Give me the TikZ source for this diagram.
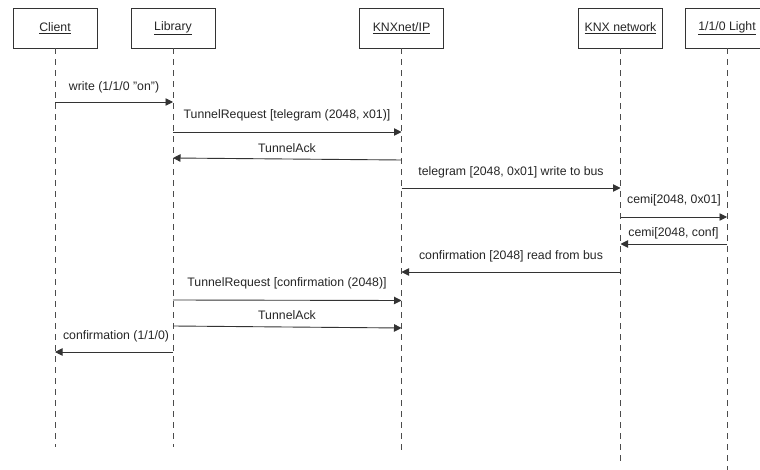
\documentclass[tikz,border=0pt]{standalone}
\usepackage{fontspec}
\setmainfont{Liberation Sans}
\usetikzlibrary{arrows.meta}
\tikzset{
  actor/.style={draw=black!80, line width=0.9pt, minimum width=84pt, minimum height=40pt, inner sep=0pt, font=\fontsize{12.3}{14}\selectfont, text=black!85},
  lifeline/.style={draw=black!70, line width=0.9pt, dash pattern=on 6pt off 5pt},
  msg/.style={draw=black!80, line width=0.9pt, -{Triangle[length=7.5pt,width=7.5pt]}},
  lbl/.style={font=\fontsize{12.3}{14}\selectfont, text=black!85, inner sep=0pt}
}
\begin{document}
\begin{tikzpicture}[x=1pt,y=-1pt]
\useasboundingbox (0,0) rectangle (760,470);
% actors
\node[actor] (client) at (55,28) {\underline{Client}};
\node[actor] (lib) at (173,28) {\underline{Library}};
\node[actor] (knxip) at (401.5,28) {\underline{KNXnet/IP}};
\node[actor] (net) at (620.5,28) {\underline{KNX network}};
\node[actor] (light) at (727,28) {\underline{1/1/0 Light}};
% lifeline ends
\coordinate (clientEnd) at (55,447);
\coordinate (libEnd) at (173,447);
\coordinate (knxipEnd) at (401.5,450);
\coordinate (netEnd) at (620.5,466);
\coordinate (lightEnd) at (727,472);
\draw[lifeline] (client.south) -- (clientEnd);
\draw[lifeline] (lib.south) -- (libEnd);
\draw[lifeline] (knxip.south) -- (knxipEnd);
\draw[lifeline] (net.south) -- (netEnd);
\draw[lifeline] (light.south) -- (lightEnd);
% message end points
\coordinate (m1a) at (55,102);   \coordinate (m1b) at (173,102);
\coordinate (m2a) at (173,132);  \coordinate (m2b) at (401.5,132);
\coordinate (m3a) at (401.5,160);\coordinate (m3b) at (173,158);
\coordinate (m4a) at (401.5,188);\coordinate (m4b) at (620.5,188);
\coordinate (m5a) at (620.5,217);\coordinate (m5b) at (727,217);
\coordinate (m6a) at (727,244);  \coordinate (m6b) at (620.5,244);
\coordinate (m7a) at (620.5,272);\coordinate (m7b) at (401.5,272);
\coordinate (m8a) at (173,300);  \coordinate (m8b) at (401.5,300.5);
\coordinate (m9a) at (173,326);  \coordinate (m9b) at (401.5,328);
\coordinate (m10a) at (173,352); \coordinate (m10b) at (55,352);
% messages
\draw[msg] (m1a) -- (m1b);
\node[lbl] (l1) at (114,87) {write (1/1/0 "on")};
\draw[msg] (m2a) -- (m2b);
\node[lbl] (l2) at (287,115) {TunnelRequest [telegram (2048, x01)]};
\draw[msg] (m3a) -- (m3b);
\node[lbl] (l3) at (287,148) {TunnelAck};
\draw[msg] (m4a) -- (m4b);
\node[lbl] (l4) at (511,172) {telegram [2048, 0x01] write to bus};
\draw[msg] (m5a) -- (m5b);
\node[lbl] (l5) at (674,200) {cemi[2048, 0x01]};
\draw[msg] (m6a) -- (m6b);
\node[lbl] (l6) at (673.5,233) {cemi[2048, conf]};
\draw[msg] (m7a) -- (m7b);
\node[lbl] (l7) at (511,256) {confirmation [2048] read from bus};
\draw[msg] (m8a) -- (m8b);
\node[lbl] (l8) at (287,283.5) {TunnelRequest [confirmation (2048)]};
\draw[msg] (m9a) -- (m9b);
\node[lbl] (l9) at (287,315) {TunnelAck};
\draw[msg] (m10a) -- (m10b);
\node[lbl] (l10) at (116,336) {confirmation (1/1/0)};
\end{tikzpicture}
\end{document}
